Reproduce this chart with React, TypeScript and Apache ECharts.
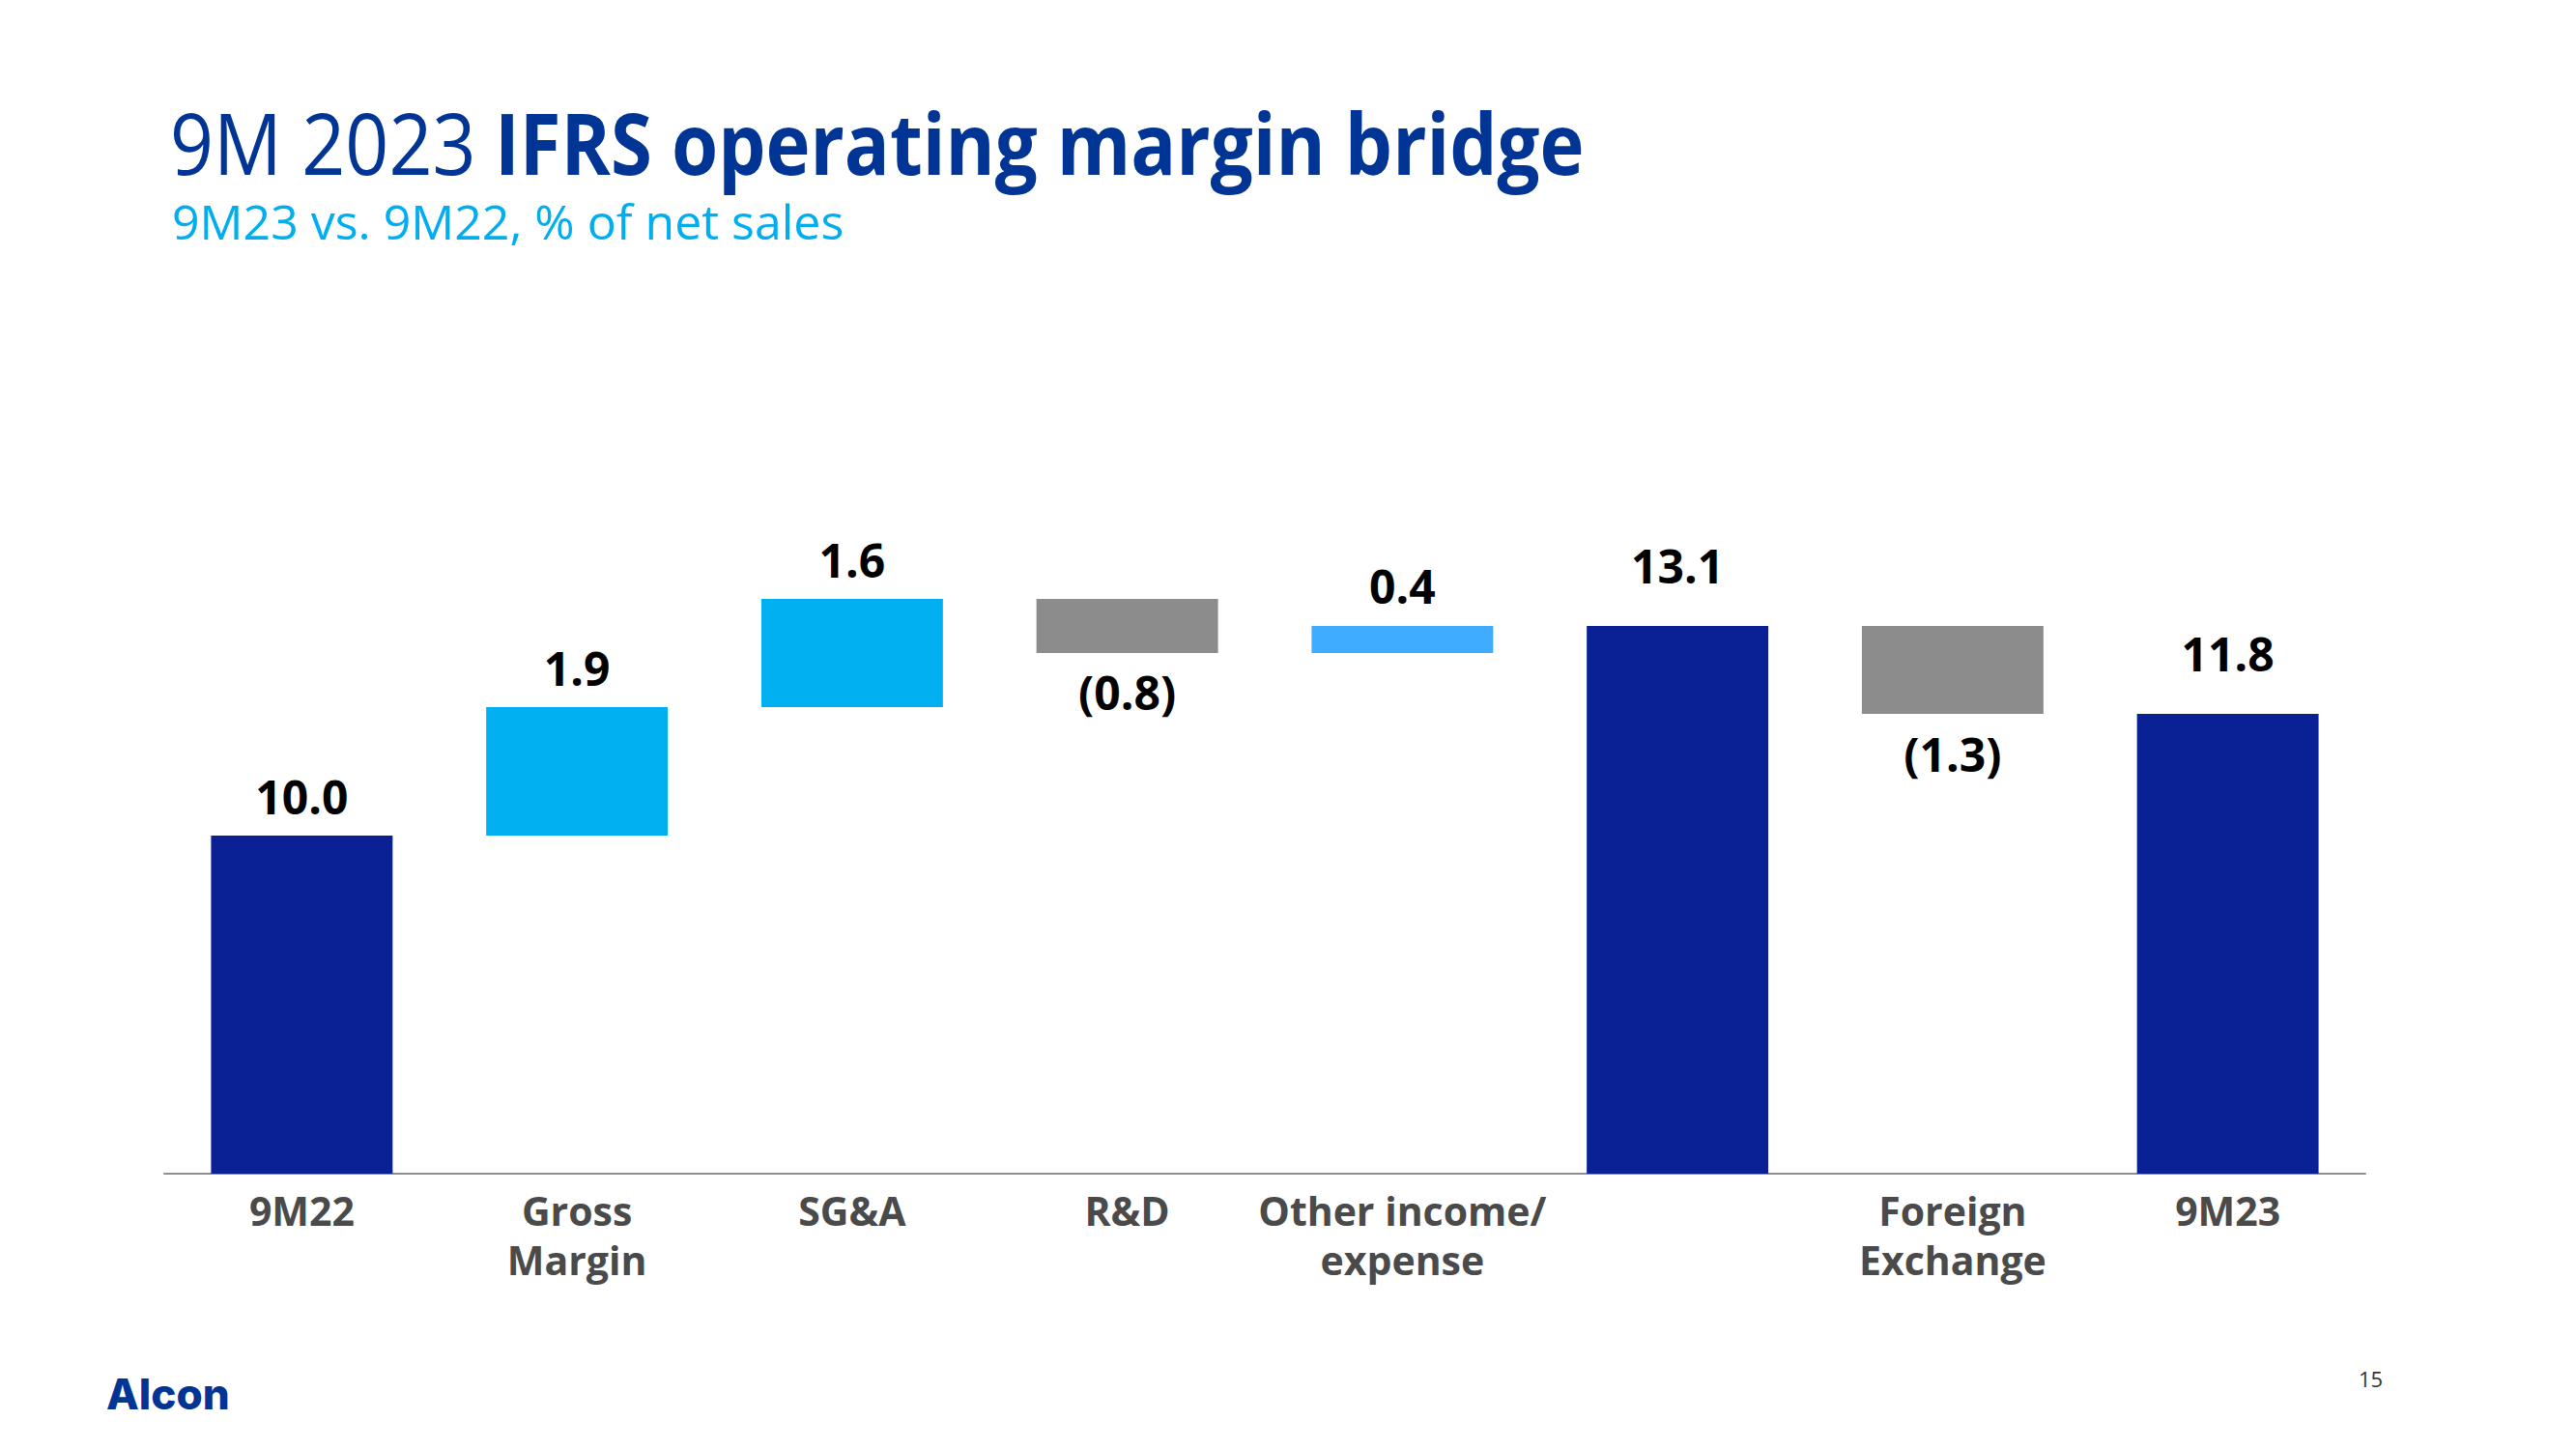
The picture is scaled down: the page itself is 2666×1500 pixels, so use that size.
import React, { useEffect, useRef } from "react";
import * as echarts from "echarts";

// ---- data ----
const categories = ["9M22", "Gross\nMargin", "SG&A", "R&D", "Other income/\nexpense", "", "Foreign\nExchange", "9M23"];
const changes = [10.0, 1.9, 1.6, -0.8, 0.4, 13.1, -1.3, 11.8];
const isTotal = [true, false, false, false, false, true, false, true];
const valueLabels = ["10.0", "1.9", "1.6", "(0.8)", "0.4", "13.1", "(1.3)", "11.8"];
const yTicks = { min: 5, max: 15 };

// ---- styles ----
const NAVY = "#0A2196";
const LIGHT = "#00B0F0";
const LIGHT2 = "#40ACFF";
const GRAY = "#8C8C8C";
const barColors = [NAVY, LIGHT, LIGHT, GRAY, LIGHT2, NAVY, GRAY, NAVY];
const labelDistance = [12, 12, 12, 11, 13, 34, 12, 34];

export default function App() {
  const ref = useRef<HTMLDivElement>(null);

  useEffect(() => {
    if (!ref.current) return;
    const chart = echarts.init(ref.current, null, { renderer: "svg" });

    const bases: number[] = [];
    const heights: number[] = [];
    let running = 0;
    changes.forEach((c, i) => {
      if (isTotal[i]) {
        bases.push(0);
        heights.push(c);
        running = c;
      } else if (c >= 0) {
        bases.push(running);
        heights.push(c);
        running += c;
      } else {
        running += c;
        bases.push(running);
        heights.push(-c);
      }
    });

    const font = "'Open Sans', 'Noto Sans', sans-serif";

    chart.setOption({
      animation: false,
      backgroundColor: "#ffffff",
      grid: { left: 170, right: 218, top: 515, bottom: 285, containLabel: false },
      xAxis: {
        type: "category",
        data: categories,
        axisTick: { show: false },
        axisLine: { lineStyle: { color: "#8f8f8f", width: 2 } },
        axisLabel: {
          interval: 0,
          margin: 12,
          color: "#4a4a4a",
          fontFamily: font,
          fontWeight: "bold",
          fontSize: 41,
          lineHeight: 51,
        },
      },
      yAxis: {
        type: "value",
        min: yTicks.min,
        max: yTicks.max,
        show: false,
        splitLine: { show: false },
      },
      series: [
        {
          type: "bar",
          stack: "wf",
          data: bases,
          itemStyle: { color: "transparent" },
          silent: true,
          barWidth: "66%",
        },
        {
          type: "bar",
          stack: "wf",
          barWidth: "66%",
          data: heights.map((h, i) => ({
            value: h,
            itemStyle: { color: barColors[i] },
            label: {
              show: true,
              position: changes[i] < 0 ? "bottom" : "top",
              distance: labelDistance[i],
              formatter: valueLabels[i],
            },
          })),
          label: {
            color: "#000000",
            fontFamily: font,
            fontWeight: "bold",
            fontSize: 48,
            lineHeight: 58,
          },
        },
      ],
      graphic: [
        {
          type: "text",
          x: 176,
          y: 103,
          scaleX: 0.895,
          style: {
            text: "9M 2023",
            fontFamily: font,
            fontSize: 88,
            fontWeight: "normal",
            fill: "#003595",
          },
        },
        {
          type: "text",
          x: 512,
          y: 103,
          scaleX: 0.885,
          style: {
            text: "IFRS operating margin bridge",
            fontFamily: font,
            fontSize: 88,
            fontWeight: "bold",
            fill: "#003595",
          },
        },
        {
          type: "text",
          x: 178,
          y: 204,
          style: {
            text: "9M23 vs. 9M22, % of net sales",
            fontFamily: font,
            fontSize: 50,
            fill: "#00AEEF",
          },
        },
        {
          type: "text",
          x: 110,
          y: 1421,
          style: {
            text: "Alcon",
            fontFamily: "Inter, 'Open Sans', sans-serif",
            fontSize: 44,
            fontWeight: 800,
            fill: "#003595",
          },
        },
        {
          type: "text",
          x: 2441,
          y: 1416,
          style: {
            text: "15",
            fontFamily: font,
            fontSize: 22,
            fill: "#333333",
          },
        },
      ],
    });

    return () => chart.dispose();
  }, []);

  return (
    <div
      ref={ref}
      style={{ position: "fixed", left: 0, top: 0, width: 2666, height: 1500, background: "#fff" }}
    />
  );
}
